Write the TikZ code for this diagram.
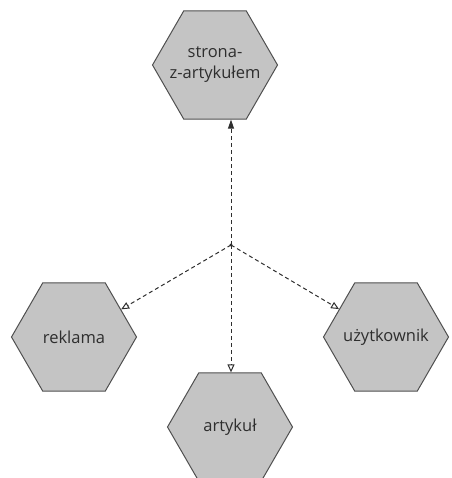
\documentclass[tikz,border=0pt]{standalone}
\usepackage{fontspec}
\setmainfont{Open Sans}
\usetikzlibrary{shapes.geometric,arrows.meta}
\definecolor{hexfill}{HTML}{C4C4C4}
\definecolor{hexline}{HTML}{505050}
\definecolor{lnk}{HTML}{2E2E2E}
\tikzset{
  hexa/.style={regular polygon, regular polygon sides=6, minimum size=125pt,
    inner sep=0pt, fill=hexfill, draw=hexline, line width=1pt},
  hexlabel/.style={font=\fontsize{16.5}{21}\selectfont, text=black!82, align=center, inner sep=0pt},
  dep/.style={draw=lnk, line width=1pt, dash pattern=on 4pt off 3pt},
  openhead/.style={-{Triangle[open,length=8pt,width=7pt]}},
  fullhead/.style={-{Triangle[length=9pt,width=6pt]}}
}
\begin{document}
\begin{tikzpicture}[x=1pt,y=-1pt]
\useasboundingbox (0,0) rectangle (451,478);
\node[hexa] (strona) at (215,65) {};
\node[hexlabel] (stronat) at (strona.center) {strona-\\z-artykułem};
\node[hexa] (reklama) at (74,337) {};
\node[hexlabel] (reklamat) at (reklama.center) {reklama};
\node[hexa] (uzytk) at (386,337) {};
\node[hexlabel] (uzytkt) at (uzytk.center) {użytkownik};
\node[hexa] (artykul) at (230,427) {};
\node[hexlabel] (artykult) at (artykul.center) {artykuł};
\coordinate (hub) at (231,245);
\fill[lnk] (hub) circle (1.6pt);
\draw[dep,fullhead] (hub) -- (hub |- strona.south);
\draw[dep,openhead] (hub) -- (reklama);
\draw[dep,openhead] (hub) -- (uzytk);
\draw[dep,openhead] (hub) -- (hub |- artykul.north);
\end{tikzpicture}
\end{document}
